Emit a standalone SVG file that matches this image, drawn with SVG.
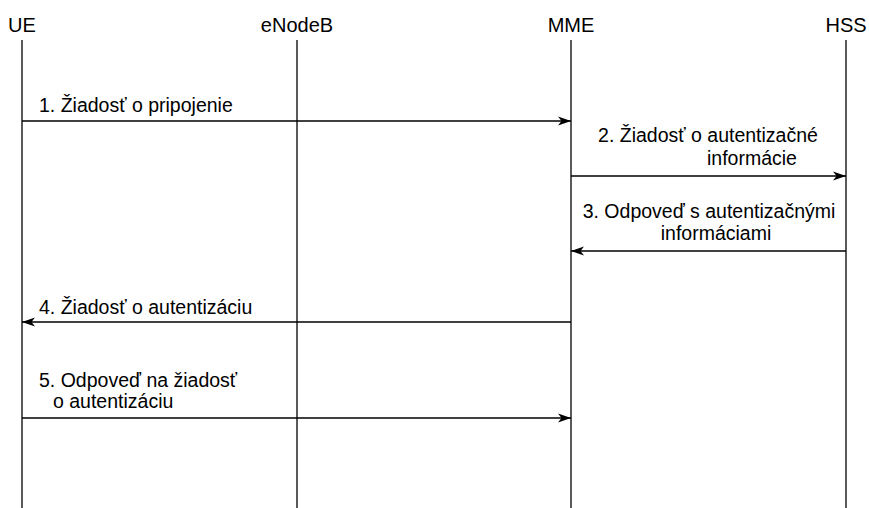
<svg xmlns="http://www.w3.org/2000/svg" width="869" height="508" viewBox="0 0 869 508">
  <style>
    .hdr { font-family: "Liberation Sans", Arial, sans-serif; font-size: 20px; fill: #000; text-anchor: middle; }
    .lbl { font-family: "Liberation Sans", Arial, sans-serif; font-size: 19.5px; fill: #000; }
    .mid { text-anchor: middle; }
    .life { stroke: #000; stroke-width: 1.3; fill: none; }
    .msg { stroke: #000; stroke-width: 1.3; fill: none; marker-end: url(#arrow); }
  </style>
  <defs>
    <marker id="arrow" markerUnits="userSpaceOnUse" markerWidth="14" markerHeight="10" refX="13" refY="5" orient="auto">
      <path d="M0,0.5 L13,5 L0,9.5 L3.5,5 Z" fill="#000"/>
    </marker>
  </defs>
  <rect width="869" height="508" fill="#fff"/>

  <!-- participants with their lifelines -->
  <g id="ue">
    <text class="hdr" x="22" y="32">UE</text>
    <line class="life" x1="22" y1="40" x2="22" y2="508"/>
  </g>
  <g id="enodeb">
    <text class="hdr" x="297" y="32">eNodeB</text>
    <line class="life" x1="297" y1="40" x2="297" y2="508"/>
  </g>
  <g id="mme">
    <text class="hdr" x="571" y="32">MME</text>
    <line class="life" x1="571" y1="40" x2="571" y2="508"/>
  </g>
  <g id="hss">
    <text class="hdr" x="846" y="32">HSS</text>
    <line class="life" x1="846" y1="40" x2="846" y2="508"/>
  </g>

  <!-- messages -->
  <g id="connectors">
    <line class="msg" x1="22" y1="121" x2="571" y2="121"/>
    <line class="msg" x1="571" y1="176" x2="846" y2="176"/>
    <line class="msg" x1="846" y1="251" x2="571" y2="251"/>
    <line class="msg" x1="571" y1="322" x2="22" y2="322"/>
    <line class="msg" x1="22" y1="418" x2="571" y2="418"/>
  </g>

  <g id="labels">
    <text class="lbl" x="39" y="112">1. Žiadosť o pripojenie</text>
    <text class="lbl mid" x="708" y="142">2. Žiadosť o autentizačné</text>
    <text class="lbl mid" x="752" y="165">informácie</text>
    <text class="lbl mid" x="709" y="218">3. Odpoveď s autentizačnými</text>
    <text class="lbl mid" x="716" y="240">informáciami</text>
    <text class="lbl" x="39" y="314">4. Žiadosť o autentizáciu</text>
    <text class="lbl" x="39" y="387">5. Odpoveď na žiadosť</text>
    <text class="lbl" x="53" y="408">o autentizáciu</text>
  </g>
</svg>
